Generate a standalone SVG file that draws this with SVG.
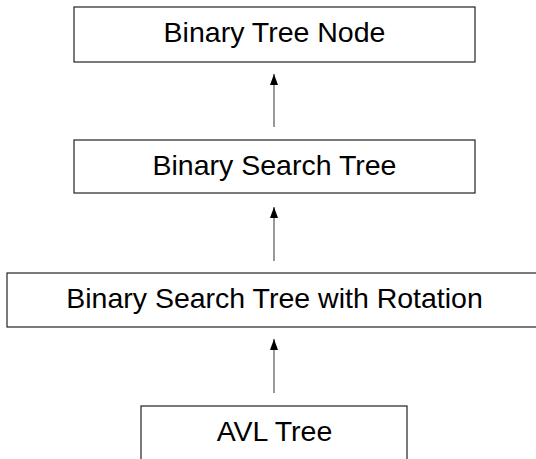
<svg xmlns="http://www.w3.org/2000/svg" width="536" height="459" viewBox="0 0 536 459">
<style>
.box{fill:#fff;stroke:#222;stroke-width:1.2}
.lbl{font-family:"Liberation Sans",Arial,sans-serif;font-size:28.5px;fill:#000;text-anchor:middle}
.edge{stroke:#777;stroke-width:1.5;fill:none}
</style>
<defs>
<marker id="ah" viewBox="0 0 11 8" refX="11" refY="4" markerWidth="11" markerHeight="8" markerUnits="userSpaceOnUse" orient="auto">
<path d="M0,0 L11,4 L0,8 Z" fill="#000"/>
</marker>
</defs>
<rect width="536" height="459" fill="#fff"/>
<g id="connectors">
<line class="edge" x1="274" y1="127" x2="274" y2="74" marker-end="url(#ah)"/>
<line class="edge" x1="274" y1="261" x2="274" y2="207" marker-end="url(#ah)"/>
<line class="edge" x1="274" y1="393" x2="274" y2="339" marker-end="url(#ah)"/>
</g>
<g id="node-btn">
<rect class="box" x="74" y="7" width="401" height="55"/>
<text class="lbl" x="274.5" y="42">Binary Tree Node</text>
</g>
<g id="node-bst">
<rect class="box" x="74" y="140" width="401" height="53"/>
<text class="lbl" x="274.5" y="175">Binary Search Tree</text>
</g>
<g id="node-bstr">
<rect class="box" x="7" y="273" width="535" height="54"/>
<text class="lbl" x="274.5" y="308">Binary Search Tree with Rotation</text>
</g>
<g id="node-avl">
<rect class="box" x="141" y="406" width="266" height="70"/>
<text class="lbl" x="274.5" y="441">AVL Tree</text>
</g>
</svg>
